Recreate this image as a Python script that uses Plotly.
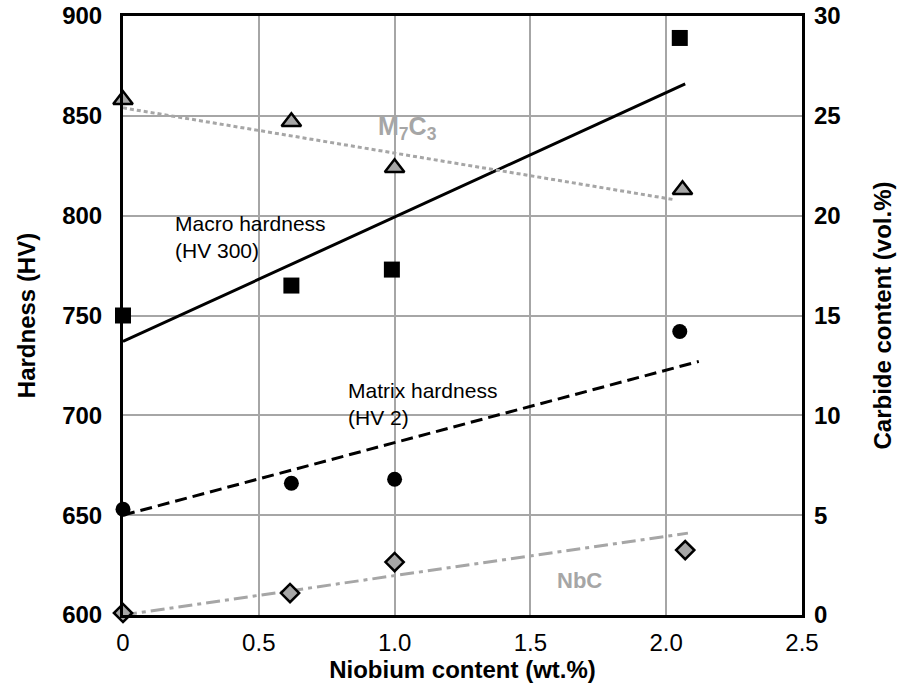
import plotly.graph_objects as go

# --- data ---
macro_x = [0.0, 0.62, 0.99, 2.05]
macro_hv = [750, 765, 773, 889]
macro_fit_x = [0.0, 2.07]
macro_fit_hv = [737, 866]

matrix_x = [0.0, 0.62, 1.0, 2.05]
matrix_hv = [653, 666, 668, 742]
matrix_fit_x = [0.0, 2.12]
matrix_fit_hv = [650, 727]

m7c3_x = [0.0, 0.62, 1.0, 2.06]
m7c3_vol = [25.8, 24.7, 22.4, 21.3]
m7c3_fit_x = [0.0, 2.03]
m7c3_fit_vol = [25.4, 20.8]

nbc_x = [0.0, 0.615, 1.0, 2.07]
nbc_vol = [0.1, 1.1, 2.65, 3.25]
nbc_fit_x = [0.0, 2.08]
nbc_fit_vol = [0.0, 4.1]

x_ticks = [0, 0.5, 1.0, 1.5, 2.0, 2.5]
x_tick_labels = ["0", "0.5", "1.0", "1.5", "2.0", "2.5"]

GRAY = "#a6a6a6"
FONT = "Liberation Sans"

fig = go.Figure()

# trend lines
fig.add_trace(go.Scatter(x=macro_fit_x, y=macro_fit_hv, mode="lines",
                         line=dict(color="black", width=3), cliponaxis=False))
fig.add_trace(go.Scatter(x=matrix_fit_x, y=matrix_fit_hv, mode="lines",
                         line=dict(color="black", width=3, dash="12px,6px"), cliponaxis=False))
fig.add_trace(go.Scatter(x=m7c3_fit_x, y=m7c3_fit_vol, mode="lines", yaxis="y2",
                         line=dict(color=GRAY, width=3, dash="4px,3px"), cliponaxis=False))
fig.add_trace(go.Scatter(x=nbc_fit_x, y=nbc_fit_vol, mode="lines", yaxis="y2",
                         line=dict(color=GRAY, width=3, dash="14px,5px,4px,5px"), cliponaxis=False))

# markers
fig.add_trace(go.Scatter(x=macro_x, y=macro_hv, mode="markers",
                         marker=dict(symbol="square", size=16, color="black"), cliponaxis=False))
fig.add_trace(go.Scatter(x=matrix_x, y=matrix_hv, mode="markers",
                         marker=dict(symbol="circle", size=15, color="black"), cliponaxis=False))
fig.add_trace(go.Scatter(x=m7c3_x, y=m7c3_vol, mode="markers", yaxis="y2",
                         marker=dict(symbol="triangle-up", size=17, color=GRAY,
                                     line=dict(color="black", width=2.5)), cliponaxis=False))
fig.add_trace(go.Scatter(x=nbc_x, y=nbc_vol, mode="markers", yaxis="y2",
                         marker=dict(symbol="diamond", size=14, color=GRAY,
                                     line=dict(color="black", width=2.5)), cliponaxis=False))

tickfont = dict(family=FONT, size=24, color="black")
titlefont = dict(family=FONT, size=24, color="black")

fig.update_layout(
    width=906, height=692,
    margin=dict(l=123, r=104, t=16, b=77),
    paper_bgcolor="white", plot_bgcolor="white",
    showlegend=False,
    font=dict(family=FONT, color="black"),
    xaxis=dict(range=[0, 2.5], tickvals=x_ticks, ticktext=x_tick_labels,
               showgrid=True, gridcolor=GRAY, gridwidth=2,
               showline=True, linecolor="black", linewidth=3, mirror=True,
               zeroline=False, ticks="", tickfont=tickfont, automargin=False,
               ticklabelstandoff=4, ticklabeloverflow="allow",
               tickprefix="<b>", ticksuffix="</b>",
               title=dict(text="<b>Niobium content (wt.%)</b>", font=titlefont, standoff=2)),
    yaxis=dict(range=[600, 900], dtick=50,
               showgrid=True, gridcolor=GRAY, gridwidth=2,
               showline=True, linecolor="black", linewidth=3, mirror=True,
               zeroline=False, ticks="", tickfont=tickfont, automargin=False,
               ticklabelstandoff=13, ticklabeloverflow="allow",
               tickprefix="<b>", ticksuffix="</b>",
               title=dict(text="<b>Hardness (HV)</b>", font=titlefont, standoff=20)),
    yaxis2=dict(range=[0, 30], dtick=5, overlaying="y", side="right",
                showgrid=False, zeroline=False, showline=False, ticks="",
                tickfont=tickfont, automargin=False,
                ticklabelstandoff=11, ticklabeloverflow="allow",
                tickprefix="<b>", ticksuffix="</b>",
                title=dict(text="<b>Carbide content (vol.%)</b>", font=titlefont, standoff=34)),
)

fig.add_annotation(x=0.184, y=803, xref="x", yref="y", text="Macro hardness<br>(HV 300)",
                   showarrow=False, xanchor="left", yanchor="top", align="left",
                   font=dict(family=FONT, size=21, color="black"))
fig.add_annotation(x=0.82, y=719, xref="x", yref="y", text="Matrix hardness<br>(HV 2)",
                   showarrow=False, xanchor="left", yanchor="top", align="left",
                   font=dict(family=FONT, size=21, color="black"))
fig.add_annotation(x=0.93, y=844, xref="x", yref="y", text="<b>M<sub>7</sub>C<sub>3</sub></b>",
                   showarrow=False, xanchor="left", yanchor="middle",
                   font=dict(family=FONT, size=25, color=GRAY))
fig.add_annotation(x=1.68, y=617.5, xref="x", yref="y", text="<b>NbC</b>",
                   showarrow=False, xanchor="center", yanchor="middle",
                   font=dict(family=FONT, size=22, color=GRAY))

fig.write_html("out.html",
               config={"displayModeBar": False},
               post_script="document.body.style.margin='0px';document.body.style.overflow='hidden';")
